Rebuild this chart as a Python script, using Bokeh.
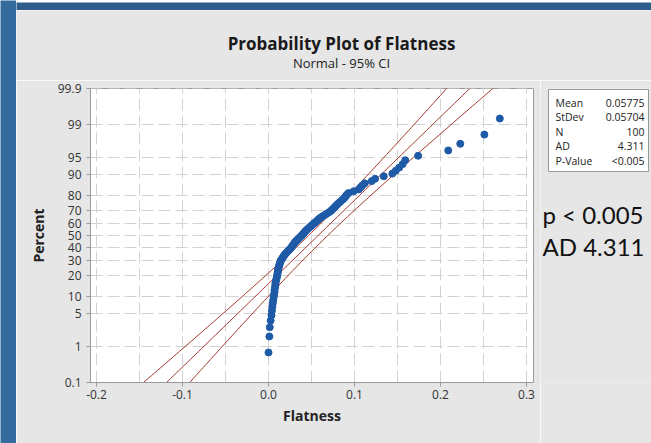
from statistics import NormalDist
import numpy as np
from bokeh.plotting import figure
from bokeh.layouts import row, column
from bokeh.models import Range1d, FixedTicker, CustomJSTickFormatter
from bokeh.core.properties import value
from bokeh.embed import file_html
from bokeh.resources import INLINE

# ---------------- data ----------------
flatness = [
    0.000, 0.001, 0.0015, 0.0025, 0.0035, 0.004, 0.0045, 0.005, 0.0055, 0.006,
    0.0065, 0.007, 0.007, 0.0075, 0.008, 0.008, 0.0085, 0.009, 0.0095, 0.010,
    0.0103, 0.0106, 0.011, 0.0112, 0.0115, 0.012, 0.0125, 0.013, 0.0135, 0.014,
    0.015, 0.016, 0.017, 0.018, 0.019, 0.0204, 0.0218, 0.0232, 0.0246, 0.026,
    0.027, 0.028, 0.029, 0.030, 0.031, 0.0324, 0.0338, 0.0352, 0.0366, 0.038,
    0.0392, 0.0404, 0.0416, 0.0428, 0.044, 0.0456, 0.0472, 0.0488, 0.0504, 0.052,
    0.0536, 0.0552, 0.0568, 0.0584, 0.060, 0.0624, 0.0648, 0.0672, 0.0696, 0.072,
    0.0736, 0.0752, 0.0768, 0.0784, 0.080, 0.082, 0.084, 0.086, 0.088, 0.0895,
    0.091, 0.093, 0.099, 0.105, 0.107, 0.109, 0.112, 0.120, 0.124, 0.134,
    0.144, 0.148, 0.152, 0.156, 0.159, 0.174, 0.209, 0.223, 0.251, 0.269,
]
mean_val = 0.05775
stdev_val = 0.05704
n_val = 100
ad_val = 4.311
p_value_text = "<0.005"

stat_names = ["Mean", "StDev", "N", "AD", "P-Value"]
stat_values = [f"{mean_val:.5f}", f"{stdev_val:.5f}", f"{n_val}", f"{ad_val:.3f}", p_value_text]

y_tick_percents = [0.1, 1, 5, 10, 20, 30, 40, 50, 60, 70, 80, 90, 95, 99, 99.9]
y_tick_labels = ["0.1", "1", "5", "10", "20", "30", "40", "50", "60", "70", "80", "90", "95", "99", "99.9"]
x_ticks = [-0.2, -0.1, 0.0, 0.1, 0.2, 0.3]
x_minor_grid = [-0.15, -0.05, 0.05, 0.15, 0.25]

title_text = "Probability Plot of Flatness"
subtitle_text = "Normal - 95% CI"
note_lines = ["p < 0.005", "AD 4.311"]

# ---------------- derived quantities ----------------
nd = NormalDist()
n = len(flatness)
xs_sorted = sorted(flatness)
z_points = [nd.inv_cdf((i - 0.3) / (n + 0.4)) for i in range(1, n + 1)]
z_ticks = [nd.inv_cdf(p / 100.0) for p in y_tick_percents]

z_line = np.linspace(-3.4, 3.4, 121)
fit_x = mean_val + stdev_val * z_line
half = 1.959964 * stdev_val * np.sqrt((1.0 + z_line ** 2 / 2.0) / n_val)
lo_x = fit_x - half
hi_x = fit_x + half

BLUE_L = "#356a9f"
BLUE_T = "#2e5d8c"
PANEL = "#e6e6e6"
RED = "#a6352e"
PTS = "#1f5aa6"
FRAME = "#9a9a9a"

# x: value 0 sits at page x 268, 860 px per unit; frame spans page x 90..533
x_lo = (90 - 268) / 860.0
x_hi = (533 - 268) / 860.0


def blank(w, h, fill, xr=None, yr=None, **kw):
    f = figure(width=w, height=h, x_axis_type=None, y_axis_type=None, title=None,
               x_range=xr if xr is not None else Range1d(0, 1),
               y_range=yr if yr is not None else Range1d(0, 1),
               output_backend="svg", toolbar_location=None,
               min_border=0, min_border_left=kw.get("left", 0), min_border_right=kw.get("right", 0),
               min_border_top=kw.get("top", 0), min_border_bottom=kw.get("bottom", 0))
    f.border_fill_color = fill
    f.background_fill_color = fill
    f.outline_line_color = None
    f.grid.visible = False
    return f


# left blue slide edge (page x 0..16) and top blue edge (page y 0..10)
left_edge = blank(16, 443, BLUE_L)
top_edge = blank(635, 10, BLUE_T)

# ---------------- title strip (page x 16..651, y 10..80) ----------------
top = blank(635, 70, PANEL, Range1d(16, 651), Range1d(80, 10))
top.text(x=[341], y=[43], text=[title_text], text_align="center", text_baseline="alphabetic",
         text_font=value("Open Sans"), text_font_style="bold", text_font_size="17px",
         text_color="#1a1a1a")
top.text(x=[341], y=[62], text=[subtitle_text], text_align="center", text_baseline="alphabetic",
         text_font=value("Open Sans"), text_font_size="13px", text_color="#222222")

# ---------------- main probability plot (page x 16..540, y 80..443) ----------------
p = figure(width=524, height=363, title=None,
           min_border_left=74, min_border_right=7, min_border_top=8, min_border_bottom=61,
           x_range=Range1d(x_lo, x_hi),
           y_range=Range1d(z_ticks[0] - 1e-4, z_ticks[-1] + 1e-4),
           output_backend="svg", toolbar_location=None)
p.border_fill_color = PANEL
p.background_fill_color = "white"
p.outline_line_color = FRAME
p.outline_line_width = 1

p.xaxis.ticker = FixedTicker(ticks=x_ticks, minor_ticks=x_minor_grid)
p.xaxis.formatter = CustomJSTickFormatter(code="return tick.toFixed(1);")
p.yaxis.ticker = FixedTicker(ticks=z_ticks)
p.yaxis.formatter = CustomJSTickFormatter(
    args=dict(zs=z_ticks, labs=y_tick_labels),
    code="""
    for (let i = 0; i < zs.length; i++) {
        if (Math.abs(tick - zs[i]) < 1e-6) { return labs[i]; }
    }
    return '';
    """)
for ax in (p.xaxis, p.yaxis):
    ax.axis_line_color = FRAME
    ax.major_tick_line_color = FRAME
    ax.major_tick_out = 4
    ax.major_tick_in = 0
    ax.minor_tick_out = 0
    ax.minor_tick_in = 0
    ax.major_label_text_font = "Open Sans"
    ax.major_label_text_font_size = "12px"
    ax.major_label_text_color = "#333333"
    ax.axis_label_text_font = "Open Sans"
    ax.axis_label_text_font_size = "14px"
    ax.axis_label_text_font_style = "bold"
    ax.axis_label_text_color = "#222222"
p.xaxis.axis_label = "Flatness"
p.yaxis.axis_label = "Percent"
p.xaxis.major_label_standoff = 3
p.yaxis.major_label_standoff = 5
p.xaxis.axis_label_standoff = 4
p.yaxis.axis_label_standoff = 7

p.xgrid.grid_line_color = "#d2d2d2"
p.xgrid.grid_line_dash = "12 5"
p.xgrid.minor_grid_line_color = "#d2d2d2"
p.xgrid.minor_grid_line_dash = "12 5"
p.ygrid.ticker = FixedTicker(ticks=z_ticks)
p.ygrid.grid_line_color = "#d2d2d2"
p.ygrid.grid_line_dash = "12 5"

for xs in (lo_x, fit_x, hi_x):
    p.line(x=xs, y=z_line, line_color=RED, line_width=1)

p.scatter(x=xs_sorted, y=z_points, size=7, fill_color=PTS, line_color=PTS)

# ---------------- right strip: statistics box and note (page x 540..651) ----------------
# same vertical borders as the main plot so that the frames line up: frame = page y 88..382
side = blank(111, 363, PANEL, Range1d(540, 651), Range1d(382, 88), top=8, bottom=61)
side.quad(left=[548], right=[648], top=[89], bottom=[171], fill_color="white",
          line_color=FRAME, line_width=1)
stat_y = [102 + 14.5 * k for k in range(len(stat_names))]
side.text(x=[555] * len(stat_names), y=stat_y, text=stat_names, text_align="left",
          text_baseline="alphabetic", text_font=value("Open Sans"), text_font_size="10.5px",
          text_color="#222222")
side.text(x=[644] * len(stat_values), y=stat_y, text=stat_values, text_align="right",
          text_baseline="alphabetic", text_font=value("Open Sans"), text_font_size="10.5px",
          text_color="#222222")
side.text(x=[542] * len(note_lines), y=[214, 246], text=note_lines, text_align="left",
          text_baseline="alphabetic", text_font=value("Lato"), text_font_size="24px",
          text_color="#111111")

layout = row(left_edge, column(top_edge, top, row(p, side, spacing=0), spacing=0), spacing=0)

open("out.html", "w").write(file_html(layout, INLINE))
